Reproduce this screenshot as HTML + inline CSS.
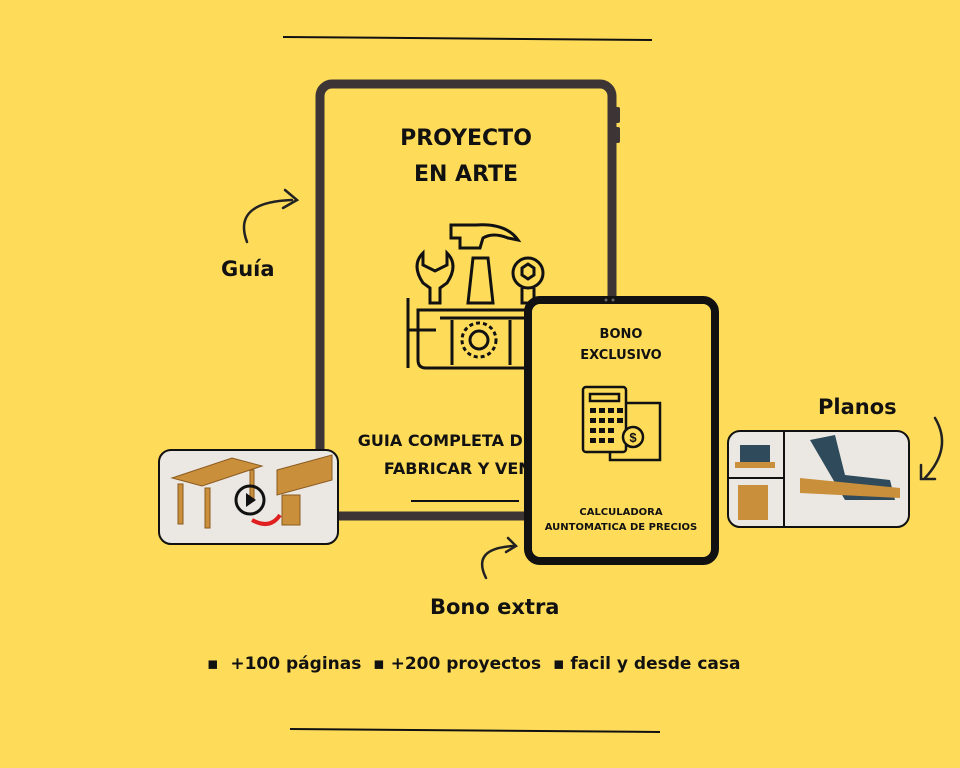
<!DOCTYPE html>
<html><head><meta charset="utf-8"><style>
body{margin:0;width:960px;height:768px;background:#fedc5a;position:relative;overflow:hidden;font-family:"DejaVu Sans","Liberation Sans",sans-serif;}
.a{position:absolute}
.t{font-weight:bold;color:#111;text-align:center}
</style></head><body>
<svg class="a" style="left:0;top:0" width="960" height="768">
<line x1="283" y1="37" x2="652" y2="40" stroke="#111" stroke-width="2"/>
<line x1="290" y1="729" x2="660" y2="732" stroke="#111" stroke-width="2"/>
<rect x="320" y="84" width="292" height="432" rx="12" fill="#fedc5a" stroke="#3d3535" stroke-width="9"/>
<rect x="613" y="107" width="7" height="16" rx="2" fill="#3d3535"/>
<rect x="613" y="127" width="7" height="16" rx="2" fill="#3d3535"/>
<line x1="411" y1="501" x2="519" y2="501" stroke="#111" stroke-width="2"/>
<g fill="none" stroke="#111" stroke-width="3">
<path d="M451 225 h25 q30 -2 42 15 l-10 -2 q-15 -6 -25 0 l-3 10 h-20 v-10 h-9z"/>
<path d="M473 258 h15 l5 45 h-25z"/>
<path d="M423 253 q-12 12 0 30 l7 5 v15 h10 v-15 l7 -5 q12 -18 0 -30 v12 l-12 6 l-12 -6z"/>
<circle cx="528" cy="273" r="15"/><path d="M522 268 l6 -4 l6 4 v7 l-6 4 l-6 -4z"/><path d="M522 288 v15 h12 v-15"/>
<path d="M418 310 h118 q10 0 10 10 v38 q0 10 -10 10 h-110 q-8 0 -8 -8z"/>
<path d="M440 318 h100"/><path d="M452 320 v45"/><path d="M510 320 v45"/>
<circle cx="479" cy="340" r="9"/><circle cx="479" cy="340" r="17" stroke-dasharray="4 3"/>
<path d="M408 298 v70"/><path d="M408 330 h28"/>
</g>
</svg>
<div class="a t" style="left:330px;top:121px;width:272px;font-size:22px;line-height:36px">PROYECTO<br>EN ARTE</div>
<div class="a t" style="left:340px;top:427px;width:272px;font-size:16px;line-height:28px;white-space:nowrap">GUIA COMPLETA DE COMO<br>FABRICAR Y VENDER</div>
<svg class="a" style="left:0;top:0" width="960" height="768">
<g fill="none" stroke="#222" stroke-width="2.5" stroke-linecap="round">
<path d="M247 242 q-15 -40 45 -42"/><path d="M285 190 l12 10 l-14 8"/>
<path d="M486 578 q-15 -30 28 -32"/><path d="M508 538 l8 8 l-10 6"/>
<path d="M935 418 q18 30 -10 60"/><path d="M921 465 v14 h14"/>
</g>
<rect x="528" y="300" width="187" height="261" rx="12" fill="#fedc5a" stroke="#111" stroke-width="8"/>
<circle cx="606" cy="300" r="1.5" fill="#666"/><circle cx="613" cy="300" r="1.5" fill="#666"/>
<g fill="none" stroke="#111" stroke-width="2.5">
<rect x="610" y="403" width="50" height="57" fill="#fedc5a"/>
<rect x="583" y="387" width="43" height="65" rx="3" fill="#fedc5a"/><rect x="590" y="394" width="29" height="7"/>
<circle cx="633" cy="437" r="10" fill="#fedc5a"/>
</g>
<text x="633" y="442" font-size="13" font-weight="bold" text-anchor="middle" fill="#111" font-family="Liberation Sans">$</text>
<g fill="#111"><rect x="590" y="408" width="6" height="5"/><rect x="599" y="408" width="6" height="5"/><rect x="608" y="408" width="6" height="5"/><rect x="617" y="408" width="6" height="5"/>
<rect x="590" y="418" width="6" height="5"/><rect x="599" y="418" width="6" height="5"/><rect x="608" y="418" width="6" height="5"/><rect x="617" y="418" width="6" height="5"/>
<rect x="590" y="428" width="6" height="5"/><rect x="599" y="428" width="6" height="5"/><rect x="608" y="428" width="6" height="5"/>
<rect x="590" y="438" width="6" height="5"/><rect x="599" y="438" width="6" height="5"/><rect x="608" y="438" width="6" height="5"/></g>
<rect x="159" y="450" width="179" height="94" rx="12" fill="#ebe8e3" stroke="#111" stroke-width="2"/>
<g fill="#c98f3a" stroke="#8a5a20" stroke-width="1"><path d="M172 478 l60 -20 l30 8 l-60 20z"/><rect x="178" y="484" width="5" height="40"/><rect x="205" y="488" width="5" height="40"/><rect x="250" y="470" width="4" height="30"/>
<path d="M277 470 l55 -15 v25 l-55 15z"/><rect x="282" y="495" width="18" height="30"/></g>
<circle cx="250" cy="500" r="14" fill="none" stroke="#111" stroke-width="3"/><path d="M246 493 l10 7 l-10 7z" fill="#111"/>
<path d="M280 515 q-10 15 -28 5" stroke="#e02020" stroke-width="4" fill="none"/>
<rect x="728" y="431" width="181" height="96" rx="12" fill="#ebe8e3" stroke="#111" stroke-width="2"/>
<line x1="784" y1="432" x2="784" y2="526" stroke="#111" stroke-width="2"/>
<line x1="729" y1="478" x2="784" y2="478" stroke="#111" stroke-width="2"/>
<path d="M810 440 l25 -5 l10 40 l45 5 l5 20 l-50 0z" fill="#2f4a5a"/>
<path d="M800 478 l100 10 v10 l-100 -5z" fill="#c98f3a"/>
<path d="M740 445 h30 v20 h-30z" fill="#2f4a5a"/><path d="M735 462 h40 v6 h-40z" fill="#c98f3a"/>
<path d="M738 485 h30 v35 h-30z" fill="#c98f3a"/>
</svg>
<div class="a t" style="left:532px;top:324px;width:178px;font-size:13px;line-height:21px">BONO<br>EXCLUSIVO</div>
<div class="a t" style="left:532px;top:505px;width:178px;font-size:10px;line-height:15px;white-space:nowrap">CALCULADORA<br>AUNTOMATICA DE PRECIOS</div>
<div class="a t" style="left:221px;top:257px;font-size:21px">Guía</div>
<div class="a t" style="left:818px;top:395px;font-size:21px">Planos</div>
<div class="a t" style="left:430px;top:595px;font-size:21px">Bono extra</div>
<div class="a t" style="left:207px;top:654px;font-size:17px;white-space:nowrap">▪ &nbsp;+100 páginas &nbsp;▪ +200 proyectos &nbsp;▪ facil y desde casa</div>
</body></html>
